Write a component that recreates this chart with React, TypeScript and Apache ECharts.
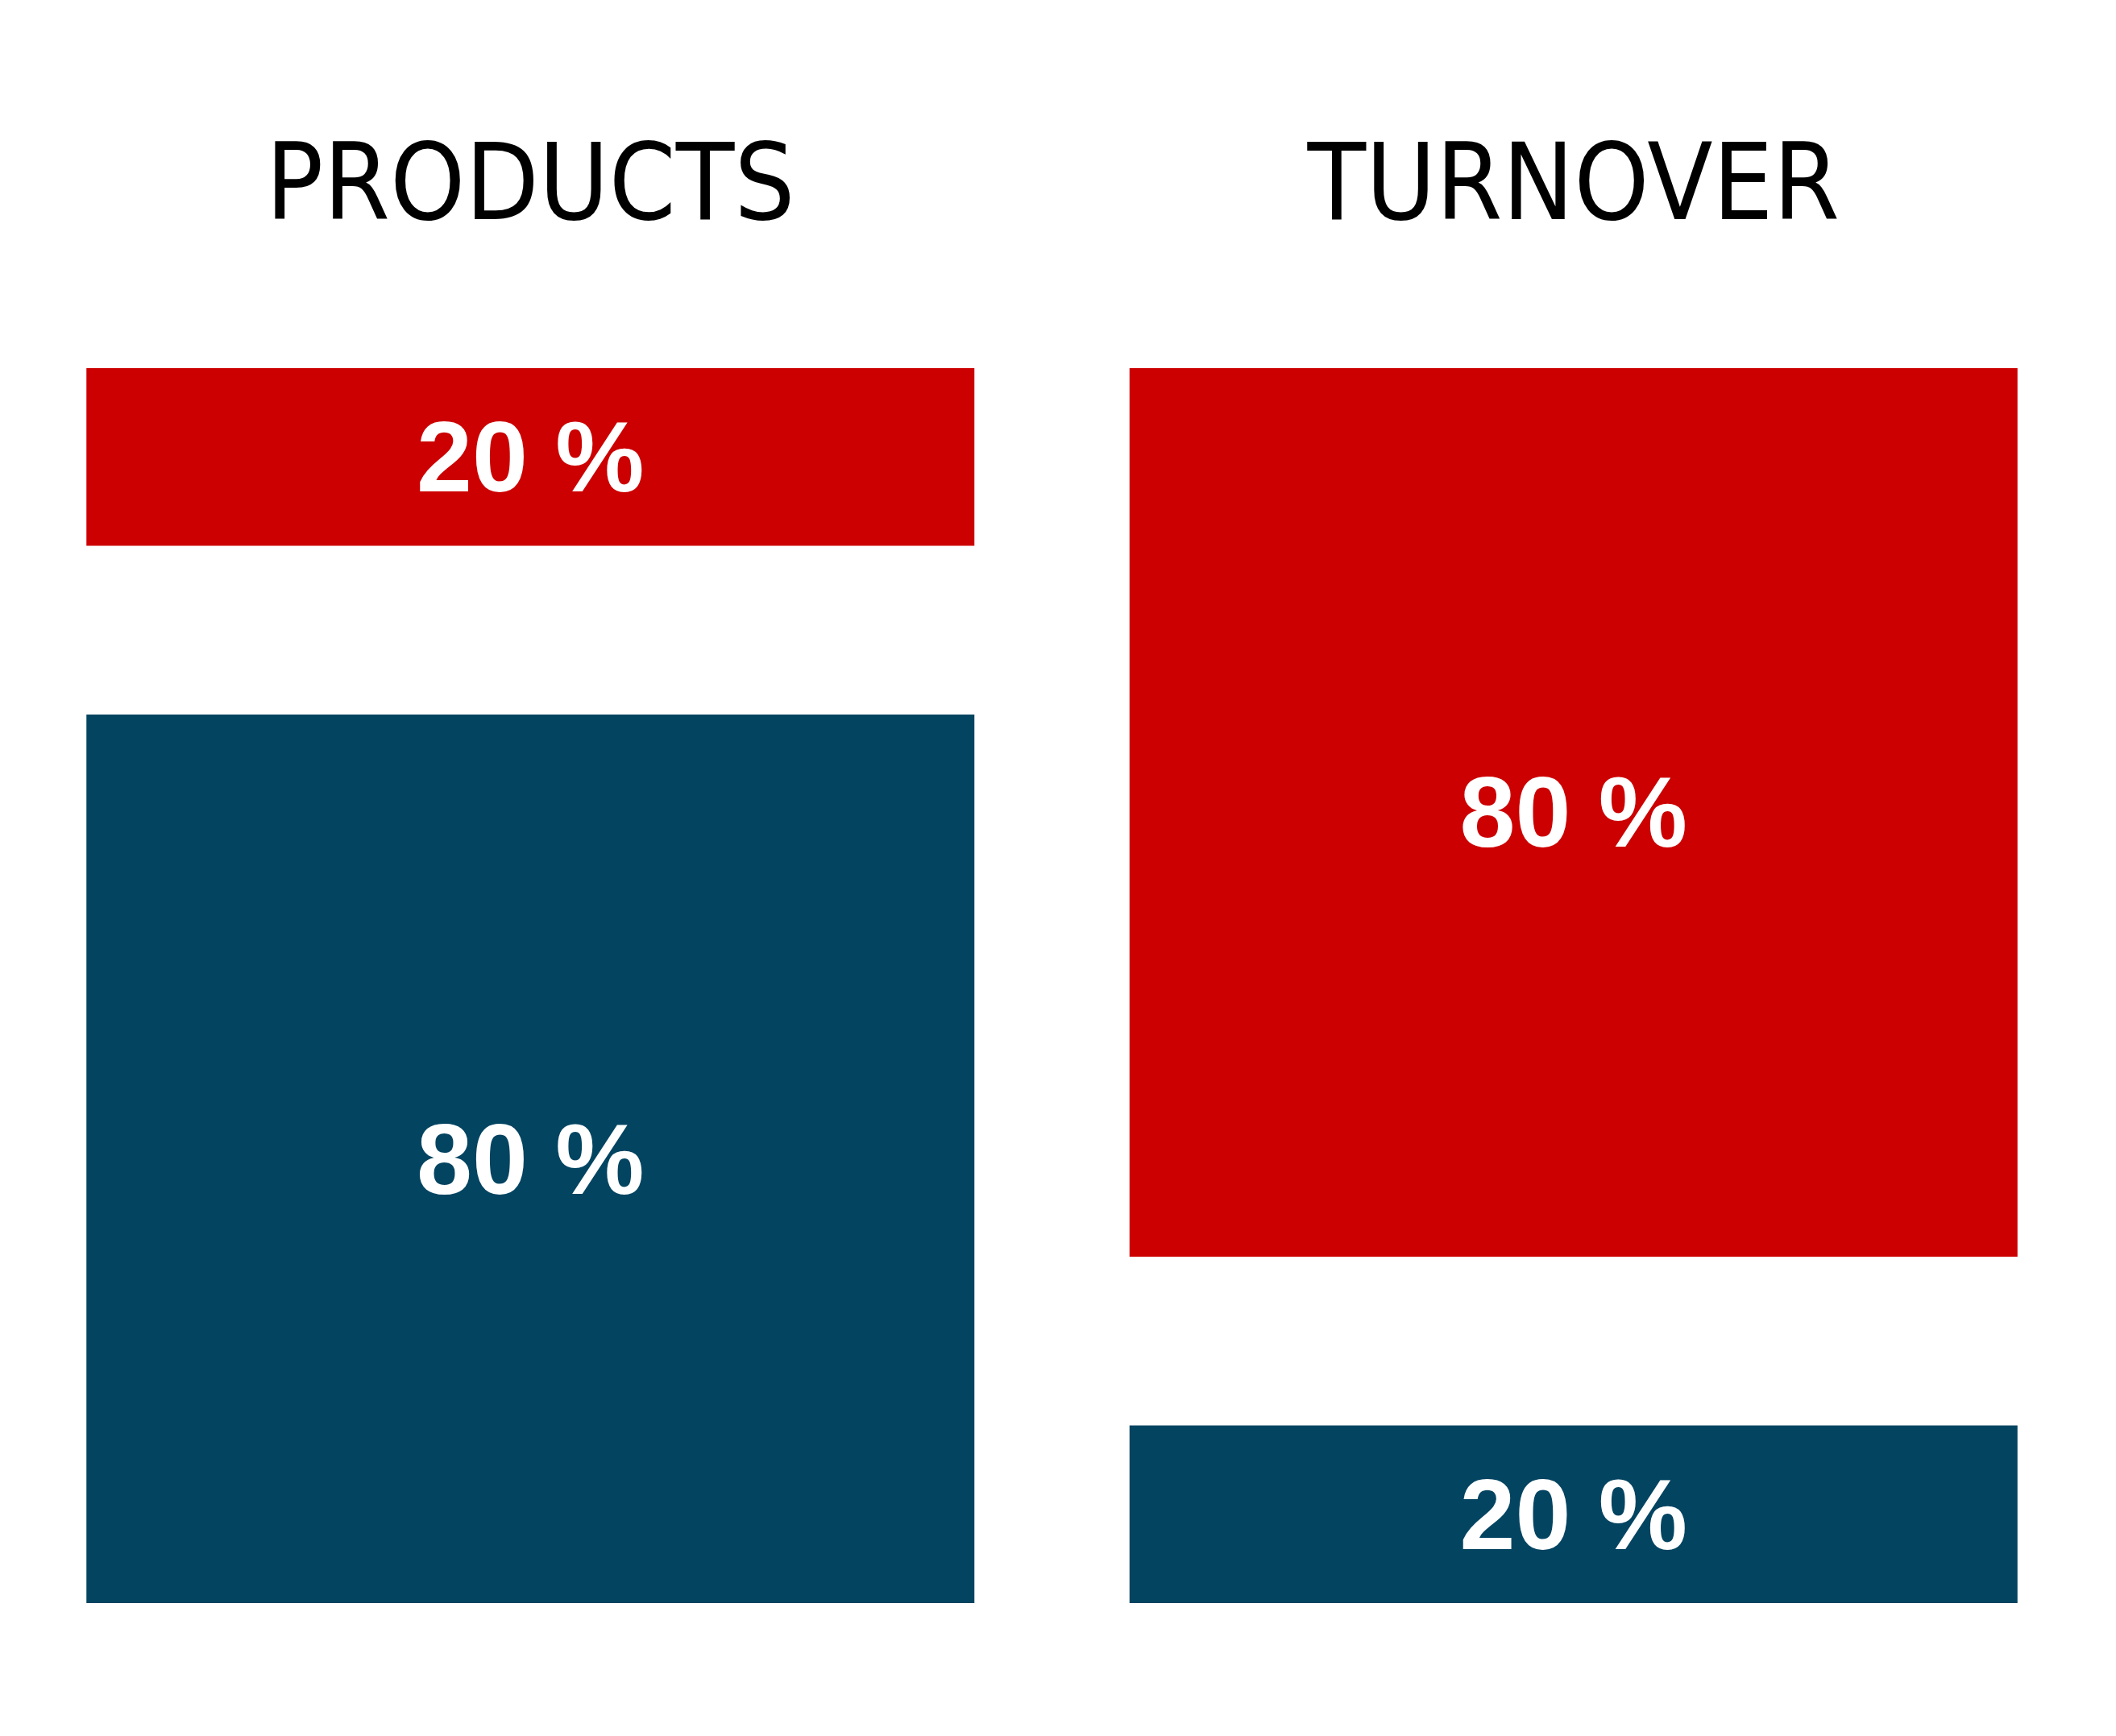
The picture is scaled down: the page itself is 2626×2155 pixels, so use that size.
import React, { useEffect, useRef } from "react";
import * as echarts from "echarts";

// Categories (column titles)
const categories = ["PRODUCTS", "TURNOVER"];
// Shares shown in the labels (%)
const redShares = [20, 80];
const blueShares = [80, 20];
// Drawn bar lengths (relative units, bar width = 100)
const redLengths = [20, 100];
const blueLengths = [100, 20];
const gapLength = 19;

const RED = "#CC0000";
const BLUE = "#034461";

export default function App() {
  const ref = useRef<HTMLDivElement>(null);
  useEffect(() => {
    if (!ref.current) return;
    const chart = echarts.init(ref.current, null, { renderer: "svg" });
    const labelStyle = {
      show: true,
      position: "inside" as const,
      color: "#ffffff",
      fontFamily: "'Liberation Sans', Arial, sans-serif",
      fontWeight: "bold" as const,
      fontSize: 124,
    };
    chart.setOption({
      animation: false,
      backgroundColor: "#ffffff",
      grid: { left: 11, right: 26, top: 457, bottom: 165, containLabel: false },
      xAxis: {
        type: "category",
        data: categories,
        position: "top",
        axisLine: { show: false },
        axisTick: { show: false },
        splitLine: { show: false },
        axisLabel: {
          margin: 231,
          verticalAlign: "middle",
          color: "#000000",
          fontFamily: "'Liberation Sans Narrow', 'DejaVu Sans Condensed', sans-serif",
          fontSize: 132,
          lineHeight: 132,
        },
      },
      yAxis: { type: "value", min: 0, max: 139, show: false, splitLine: { show: false } },
      series: [
        {
          type: "bar",
          stack: "col",
          barWidth: 1102,
          data: blueLengths,
          itemStyle: { color: BLUE },
          label: { ...labelStyle, formatter: (p: any) => `${blueShares[p.dataIndex]} %` },
        },
        {
          type: "bar",
          stack: "col",
          barWidth: 1102,
          silent: true,
          data: categories.map(() => gapLength),
          itemStyle: { color: "rgba(0,0,0,0)" },
          label: { show: false },
        },
        {
          type: "bar",
          stack: "col",
          barWidth: 1102,
          data: redLengths,
          itemStyle: { color: RED },
          label: { ...labelStyle, formatter: (p: any) => `${redShares[p.dataIndex]} %` },
        },
      ],
    });
    return () => chart.dispose();
  }, []);
  return (
    <div
      ref={ref}
      style={{ position: "fixed", left: 0, top: 0, width: 2626, height: 2155 }}
    />
  );
}
